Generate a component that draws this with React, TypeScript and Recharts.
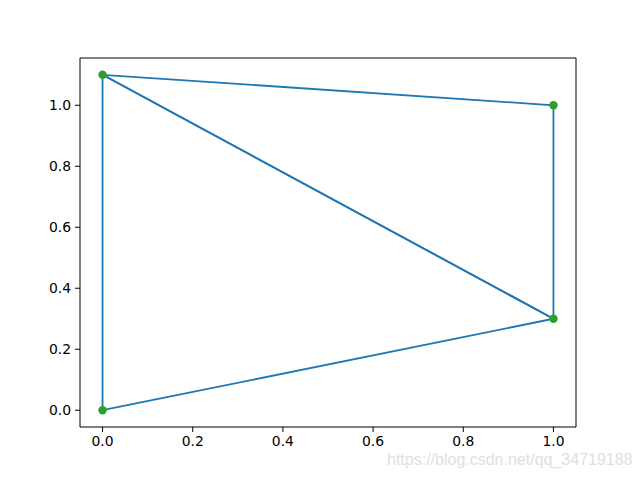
import React from 'react';
import { ScatterChart, Scatter, XAxis, YAxis } from 'recharts';

// triangulation vertices and triangle index lists
const pointsX = [0, 1, 1, 0];
const pointsY = [0, 0.3, 1, 1.1];
const triangles = [
  [0, 1, 3],
  [1, 2, 3],
];
const xTicks = [0, 0.2, 0.4, 0.6, 0.8, 1.0];
const yTicks = [0, 0.2, 0.4, 0.6, 0.8, 1.0];

const vertices = pointsX.map((x, i) => ({ x, y: pointsY[i] }));
const triangleSeries = triangles.map((tri) =>
  [...tri, tri[0]].map((i) => vertices[i])
);

const tickStyle = { fill: '#000', fontSize: 13.9, fontFamily: 'DejaVu Sans' };
const fmt = (v: number) => v.toFixed(1);

const Dot = (props: any) => (
  <circle cx={props.cx} cy={props.cy} r={4.2} fill="#2ca02c" />
);
const NoDot = () => <g />;

export default function App() {
  return (
    <div style={{ position: 'absolute', left: 0, top: 0, width: 640, height: 480, background: '#fff' }}>
      <ScatterChart
        width={640}
        height={480}
        margin={{ top: 48, right: 0, bottom: 0, left: 0 }}
      >
        <XAxis
          xAxisId="main"
          type="number"
          dataKey="x"
          domain={[-0.05, 1.05]}
          ticks={xTicks}
          tickFormatter={fmt}
          allowDataOverflow
          height={53}
          tickSize={5}
          tickMargin={4}
          tick={tickStyle}
          axisLine={{ stroke: '#000', strokeWidth: 1 }}
          tickLine={{ stroke: '#000' }}
        />
        <XAxis
          xAxisId="top"
          orientation="top"
          type="number"
          domain={[0, 1]}
          height={10}
          tick={false}
          tickLine={false}
          axisLine={{ stroke: '#000', strokeWidth: 1 }}
        />
        <YAxis
          yAxisId="main"
          type="number"
          dataKey="y"
          domain={[-0.055, 1.155]}
          ticks={yTicks}
          tickFormatter={fmt}
          allowDataOverflow
          width={80}
          tickSize={5}
          tickMargin={4}
          tick={tickStyle}
          axisLine={{ stroke: '#000', strokeWidth: 1 }}
          tickLine={{ stroke: '#000' }}
        />
        <YAxis
          yAxisId="right"
          orientation="right"
          type="number"
          domain={[0, 1]}
          width={64}
          tick={false}
          tickLine={false}
          axisLine={{ stroke: '#000', strokeWidth: 1 }}
        />
        {triangleSeries.map((data, i) => (
          <Scatter
            key={i}
            xAxisId="main"
            yAxisId="main"
            data={data}
            line={{ stroke: '#1f77b4', strokeWidth: 1.8 }}
            shape={NoDot}
            isAnimationActive={false}
          />
        ))}
        <Scatter
          xAxisId="main"
          yAxisId="main"
          data={vertices}
          shape={Dot}
          isAnimationActive={false}
        />
      </ScatterChart>
      <div
        style={{
          position: 'absolute',
          left: 387,
          top: 451,
          fontFamily: 'Liberation Sans, Arial, sans-serif',
          fontSize: 16,
          color: '#e0e0e0',
          whiteSpace: 'nowrap',
        }}
      >
        https://blog.csdn.net/qq_34719188
      </div>
    </div>
  );
}
